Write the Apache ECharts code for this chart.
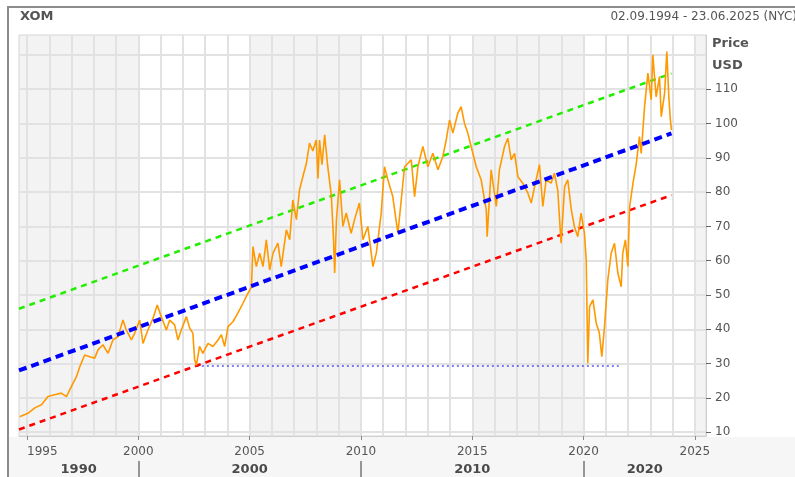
<!DOCTYPE html>
<html>
<head>
<meta charset="utf-8">
<script src="https://cdn.jsdelivr.net/npm/echarts@6/dist/echarts.min.js"></script>
<style>
  html, body { margin: 0; padding: 0; background: #fff; }
  #chart { width: 795px; height: 477px; }
</style>
</head>
<body>
<div id="chart"></div>
<script>
// XOM daily close (decimal year, USD)
const priceYears = [
  1994.67, 1995.04, 1995.35, 1995.65, 1995.94, 1996.24, 1996.54, 1996.77, 1996.99, 1997.22,
  1997.37, 1997.59, 1997.82, 1998.04, 1998.19, 1998.41, 1998.64, 1998.86, 1999.09, 1999.31,
  1999.46, 1999.69, 1999.84, 2000.06, 2000.21, 2000.43, 2000.66, 2000.85, 2001.03, 2001.26,
  2001.41, 2001.63, 2001.78, 2001.93, 2002.16, 2002.31, 2002.45, 2002.53, 2002.61, 2002.75,
  2002.90, 2003.13, 2003.35, 2003.58, 2003.73, 2003.88, 2004.03, 2004.25, 2004.47, 2004.70,
  2004.92, 2005.08, 2005.15, 2005.30, 2005.45, 2005.60, 2005.75, 2005.90, 2006.05, 2006.27,
  2006.42, 2006.65, 2006.80, 2006.94, 2007.10, 2007.24, 2007.39, 2007.55, 2007.69, 2007.84,
  2007.99, 2008.07, 2008.14, 2008.25, 2008.37, 2008.51, 2008.67, 2008.77, 2008.82, 2008.90,
  2009.04, 2009.19, 2009.34, 2009.56, 2009.71, 2009.93, 2010.09, 2010.31, 2010.54, 2010.69,
  2010.91, 2011.06, 2011.21, 2011.43, 2011.66, 2011.81, 2011.96, 2012.26, 2012.41, 2012.56,
  2012.78, 2013.01, 2013.23, 2013.46, 2013.68, 2013.83, 2013.98, 2014.13, 2014.35, 2014.50,
  2014.65, 2014.80, 2014.95, 2015.18, 2015.40, 2015.63, 2015.67, 2015.85, 2016.08, 2016.22,
  2016.45, 2016.60, 2016.75, 2016.90, 2017.05, 2017.27, 2017.50, 2017.65, 2017.80, 2018.02,
  2018.17, 2018.32, 2018.54, 2018.69, 2018.84, 2018.99, 2019.15, 2019.29, 2019.45, 2019.59,
  2019.74, 2019.89, 2020.04, 2020.12, 2020.19, 2020.27, 2020.42, 2020.57, 2020.71, 2020.82,
  2020.94, 2021.09, 2021.24, 2021.39, 2021.54, 2021.69, 2021.76, 2021.88, 2021.99, 2022.07,
  2022.22, 2022.37, 2022.51, 2022.59, 2022.74, 2022.89, 2023.04, 2023.11, 2023.26, 2023.41,
  2023.49, 2023.64, 2023.74, 2023.83, 2023.90, 2023.95
];
const priceValues = [
  14.5, 15.5, 17.1, 18.0, 20.4, 20.9, 21.4, 20.4, 23.3, 26.2,
  29.1, 32.5, 32.0, 31.6, 34.0, 35.5, 33.0, 36.9, 37.9, 42.7,
  39.8, 36.9, 38.9, 42.7, 35.9, 39.8, 43.2, 47.1, 43.7, 39.8,
  42.7, 41.3, 36.9, 39.8, 43.7, 40.3, 38.9, 31.1, 29.5, 35.0,
  33.0, 35.9, 35.0, 36.9, 38.4, 35.0, 40.8, 42.2, 44.7, 47.6,
  50.5, 52.4, 64.1, 58.3, 62.2, 58.3, 66.1, 57.3, 62.2, 65.1,
  58.3, 69.0, 66.1, 77.7, 72.0, 80.6, 84.5, 88.4, 94.3, 92.0,
  95.2, 84.0, 95.2, 88.0, 96.7, 87.4, 79.0, 66.0, 56.4, 72.0,
  83.6, 70.0, 73.9, 68.0, 71.9, 76.8, 66.1, 70.0, 58.3, 62.2,
  73.9, 87.4, 83.6, 78.7, 68.0, 77.7, 87.4, 89.4, 78.7, 87.4,
  93.3, 87.4, 91.3, 86.5, 90.4, 95.2, 101.0, 97.2, 103.0, 104.9,
  100.1, 97.2, 93.3, 87.4, 83.6, 74.8, 67.0, 86.5, 75.8, 86.5,
  93.3, 95.7, 89.4, 91.3, 84.5, 82.6, 79.7, 76.8, 81.6, 88.0,
  75.8, 83.6, 82.6, 85.5, 80.6, 65.1, 81.6, 83.6, 74.8, 69.9,
  67.0, 73.9, 68.0, 60.2, 30.1, 46.6, 48.6, 41.8, 38.9, 32.0,
  40.8, 54.4, 62.2, 65.1, 56.4, 52.4, 62.2, 66.1, 58.3, 75.8,
  82.6, 88.4, 96.2, 91.3, 104.9, 114.7, 106.9, 120.0, 107.8, 113.7,
  102.0, 108.8, 121.0, 107.8, 101.0, 98.05
];

// trend channel (start / end of each line)
const channelYears = [1994.64, 2023.95];
const upperChannel = [46.0, 114.6];
const midChannel = [28.0, 97.1];
const lowerChannel = [10.8, 79.1];

// horizontal support line
const supportYears = [2002.63, 2021.58];
const supportLevel = 29.3;

const lastPrice = 98.05;
const lastPriceLabel = '98,050000';

// axes
const yearLabels = [1995, 2000, 2005, 2010, 2015, 2020, 2025];
const gridYears = [1995, 1996, 1997, 1998, 1999, 2000, 2001, 2002, 2003, 2004, 2005, 2006,
  2007, 2008, 2009, 2010, 2011, 2012, 2013, 2014, 2015, 2016, 2017, 2018, 2019, 2020,
  2021, 2022, 2023, 2024, 2025];
const priceLabels = [10, 20, 30, 40, 50, 60, 70, 80, 90, 100, 110];
const priceGrid = [10, 20, 30, 40, 50, 60, 70, 80, 90, 100, 110, 120];
const decadeNames = ['1990', '2000', '2010', '2020'];
const decadeStarts = [1990, 2000, 2010, 2020];
const bandRanges = [[1990, 2000], [2005, 2010], [2015, 2020], [2025, 2030]];

const xMin = 1994.64, xMax = 2025.5;
const yMin = 8.9, yMax = 125.8;
const font = 'DejaVu Sans';
const textColor = '#555';
const gridColor = '#e2e2e2';

const decadeCenters = decadeStarts.map(s => (Math.max(s, xMin) + Math.min(s + 10, xMax)) / 2);

const pair = (xs, ys) => xs.map((x, i) => [x, ys[i]]);

// shaded 5-year bands [x1, x2]
const bandSegments = bandRanges.map(r => [Math.max(r[0], xMin), Math.min(r[1], xMax)]);

const chart = echarts.init(document.getElementById('chart'));

chart.setOption({
  animation: false,
  grid: {
    left: 19, right: 89, top: 35, bottom: 41,
    show: true, borderColor: '#d6d6d6', borderWidth: 1, backgroundColor: 'transparent'
  },
  graphic: [
    { type: 'rect', z: -1, shape: { x: 9, y: 437, width: 786, height: 40 }, style: { fill: '#f6f6f6' } },
    { type: 'line', z: 10, shape: { x1: 8, y1: 7, x2: 8, y2: 477 }, style: { stroke: '#8c8c8c', lineWidth: 2 } },
    { type: 'line', z: 10, shape: { x1: 7, y1: 7, x2: 795, y2: 7 }, style: { stroke: '#8c8c8c', lineWidth: 2 } },
    { type: 'text', left: 20, top: 10, style: { text: 'XOM', font: 'bold 13px "DejaVu Sans"', fill: textColor } },
    { type: 'text', right: -2, top: 11, style: { text: '02.09.1994 - 23.06.2025 (NYC)', font: '12px "DejaVu Sans"', fill: textColor } },
    { type: 'text', left: 712, top: 37, style: { text: 'Price', font: 'bold 13px "DejaVu Sans"', fill: textColor } },
    { type: 'text', left: 712, top: 59, style: { text: 'USD', font: 'bold 13px "DejaVu Sans"', fill: textColor } }
  ],
  xAxis: [
    {
      type: 'value', min: xMin, max: xMax,
      axisLine: { show: true, lineStyle: { color: '#d0d0d0' } },
      axisTick: { show: true, customValues: yearLabels, length: 4, lineStyle: { color: '#888' } },
      axisLabel: {
        customValues: yearLabels, margin: 10, color: textColor,
        fontFamily: font, fontSize: 12, alignMinLabel: 'left',
        formatter: v => String(v)
      },
      splitLine: { show: false }
    },
    {
      type: 'value', min: xMin, max: xMax, position: 'bottom', offset: 25,
      axisLine: { show: false },
      axisTick: { show: true, customValues: decadeStarts.slice(1), length: 16, lineStyle: { color: '#777', width: 1.5 } },
      axisLabel: {
        customValues: decadeCenters, margin: 2, color: '#4a4a4a',
        fontFamily: font, fontSize: 13, fontWeight: 'bold',
        formatter: v => {
          const i = decadeCenters.findIndex(c => Math.abs(c - v) < 1e-6);
          return i >= 0 ? decadeNames[i] : '';
        }
      },
      splitLine: { show: false }
    },
    {
      // hidden axis that only carries the yearly vertical grid
      type: 'value', min: xMin, max: xMax, position: 'top',
      axisLine: { show: false },
      axisTick: { show: false, customValues: gridYears },
      axisLabel: { show: false },
      splitLine: { show: true, lineStyle: { color: gridColor, width: 2 } }
    }
  ],
  yAxis: [
    {
      type: 'value', position: 'right', min: yMin, max: yMax,
      axisLine: { show: true, lineStyle: { color: '#d0d0d0' } },
      axisTick: { show: true, customValues: priceLabels, length: 5, lineStyle: { color: '#666' } },
      axisLabel: { customValues: priceLabels, margin: 9, color: textColor, fontFamily: font, fontSize: 12, formatter: v => String(v) },
      splitLine: { show: false }
    },
    {
      // hidden axis that only carries the horizontal price grid
      type: 'value', position: 'left', min: yMin, max: yMax,
      axisLine: { show: false },
      axisTick: { show: false, customValues: priceGrid },
      axisLabel: { show: false },
      splitLine: { show: true, lineStyle: { color: gridColor, width: 2 } }
    }
  ],
  series: [
    {
      name: 'bands', type: 'custom', z: -1, silent: true,
      data: bandSegments,
      encode: { x: [0, 1] },
      renderItem: (params, api) => {
        const a = api.coord([api.value(0), yMax]);
        const b = api.coord([api.value(1), yMin]);
        return { type: 'rect', shape: { x: a[0], y: a[1], width: b[0] - a[0], height: b[1] - a[1] }, style: { fill: '#f3f3f3' } };
      }
    },
    {
      name: 'support', type: 'line', z: 3, symbol: 'none', silent: true,
      data: pair(supportYears, [supportLevel, supportLevel]),
      lineStyle: { color: '#0000ff', width: 1.2, type: [2, 3] }
    },
    {
      name: 'upper', type: 'line', z: 3, symbol: 'none', silent: true,
      data: pair(channelYears, upperChannel),
      lineStyle: { color: '#22ee00', width: 2.5, type: [6, 5] }
    },
    {
      name: 'lower', type: 'line', z: 3, symbol: 'none', silent: true,
      data: pair(channelYears, lowerChannel),
      lineStyle: { color: '#ff0000', width: 2.5, type: [6, 5] }
    },
    {
      name: 'XOM', type: 'line', z: 4, symbol: 'none', silent: true,
      data: pair(priceYears, priceValues),
      lineStyle: { color: '#ff9900', width: 1.6 }
    },
    {
      name: 'mid', type: 'line', z: 5, symbol: 'none', silent: true,
      data: pair(channelYears, midChannel),
      lineStyle: { color: '#0000ff', width: 4, type: [8, 5] },
      markLine: {
        z: 10, silent: true, symbol: 'none',
        lineStyle: { opacity: 0 },
        label: {
          show: true, position: 'end', distance: 1,
          formatter: lastPriceLabel,
          backgroundColor: '#ff9900', color: '#000',
          fontFamily: font, fontSize: 13, fontWeight: 'bold',
          padding: [3, 6, 2, 2]
        },
        data: [{ yAxis: lastPrice }]
      }
    }
  ]
});
</script>
</body>
</html>
